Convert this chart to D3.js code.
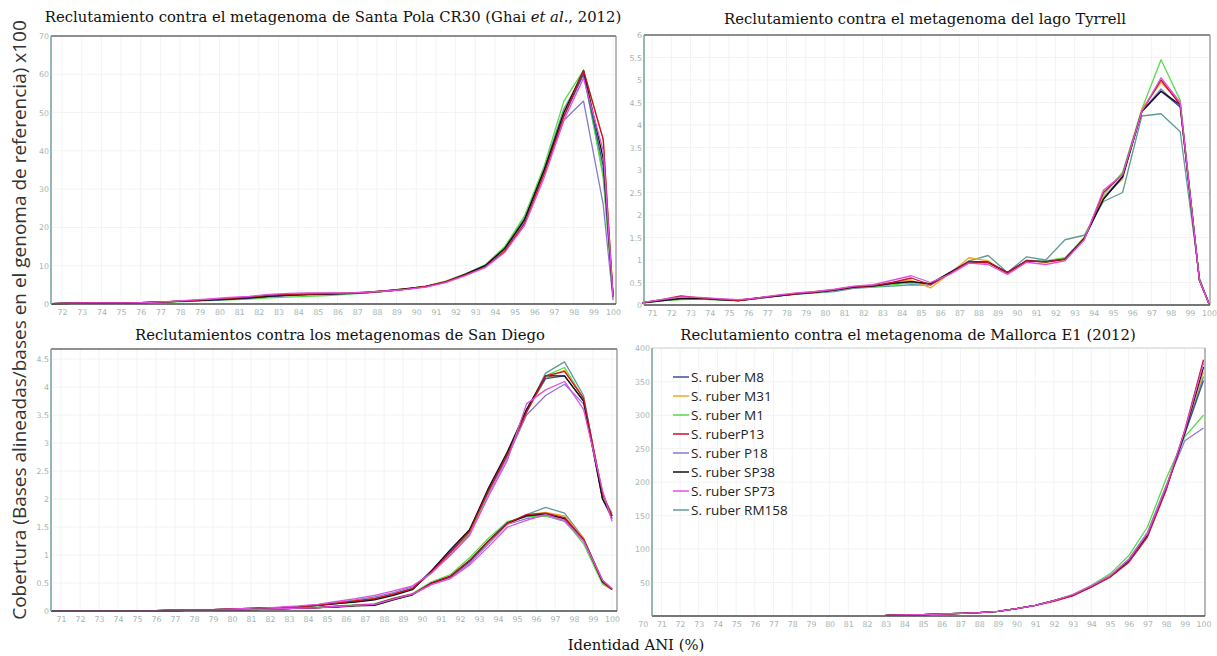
<!DOCTYPE html>
<html><head><meta charset="utf-8">
<script src="https://cdn.jsdelivr.net/npm/d3@7"></script>
<style>body{margin:0;background:#fff} svg{display:block}</style>
</head><body><svg id="c" width="1217" height="656"></svg>
<script>
const strains = ["S. ruber M8","S. ruber M31","S. ruber M1","S. ruberP13","S. ruber P18","S. ruber SP38","S. ruber SP73","S. ruber RM158"];
const strainColors = ["#3b4f9a","#f5a623","#55dd44","#c8102e","#8a78d0","#111111","#e050e0","#5f9a9a"];
const drawOrder = [7,4,2,1,0,5,3,6];

// Santa Pola CR30
const xSantaPola = [71.5,72.5,73.5,74.5,75.5,76.5,77.5,78.5,79.5,80.5,81.5,82.5,83.5,84.5,85.5,86.5,87.5,88.5,89.5,90.5,91.5,92.5,93.5,94.5,95.5,96.5,97.5,98.5,99.5,100];
const santaPola = [
 [0.1,0.2,0.3,0.3,0.3,0.4,0.6,0.8,1.0,1.2,1.5,1.9,2.2,2.4,2.5,2.7,3.0,3.4,3.9,4.6,5.8,7.7,10,14.5,22,35,49,60,36,2],
 [0.1,0.2,0.3,0.3,0.3,0.4,0.6,0.8,1.1,1.4,1.7,2.2,2.6,2.8,2.9,2.9,3.1,3.5,4.0,4.6,5.9,7.6,9.8,14,21,34,50,61,43,2],
 [0.1,0.2,0.3,0.3,0.3,0.4,0.5,0.7,0.9,1.1,1.3,1.6,1.8,2.0,2.2,2.5,2.9,3.3,3.9,4.7,6.0,7.9,10.2,15,23,36,53,61,33,2],
 [0.1,0.2,0.3,0.3,0.3,0.4,0.6,0.9,1.2,1.5,1.8,2.3,2.5,2.6,2.7,2.8,3.0,3.4,3.9,4.6,5.8,7.6,9.6,13.8,21,34,49,61,43,2],
 [0.1,0.2,0.3,0.3,0.3,0.4,0.6,0.8,1.0,1.3,1.6,2.0,2.3,2.5,2.6,2.8,3.0,3.4,3.9,4.5,5.7,7.6,9.8,14.3,21.5,34,48,53,26,1],
 [0.1,0.2,0.3,0.3,0.3,0.4,0.6,0.8,1.0,1.3,1.6,2.0,2.3,2.5,2.6,2.8,3.1,3.5,4.0,4.6,5.8,7.8,10,14.5,22,35,50,61,38,2],
 [0.1,0.2,0.3,0.3,0.3,0.4,0.7,1.0,1.3,1.7,2.0,2.5,2.8,2.9,2.9,2.9,3.1,3.4,3.8,4.4,5.6,7.4,9.5,13.5,20.5,33,48,59,40,2],
 [0.1,0.2,0.3,0.3,0.3,0.4,0.6,0.8,1.0,1.3,1.6,2.0,2.3,2.5,2.6,2.8,3.0,3.4,3.9,4.6,5.9,7.8,10,14.8,22.5,35.5,51,60,34,2]
];
const santaPolaXTicks = [72,73,74,75,76,77,78,79,80,81,82,83,84,85,86,87,88,89,90,91,92,93,94,95,96,97,98,99,100];
const santaPolaYTicks = [0,10,20,30,40,50,60,70];

// Lago Tyrrell
const xTyrrell = [70.5,71.5,72.5,73.5,74.5,75.5,76.5,77.5,78.5,79.5,80.5,81.5,82.5,83.5,84.5,85.5,86.5,87.5,88.5,89.5,90.5,91.5,92.5,93.5,94.5,95.5,96.5,97.5,98.5,99.5,100];
const tyrrell = [
 [0.05,0.1,0.14,0.15,0.12,0.1,0.15,0.2,0.25,0.28,0.33,0.4,0.42,0.48,0.52,0.47,0.72,0.97,0.95,0.72,0.98,0.97,1.02,1.48,2.35,2.85,4.3,4.75,4.4,0.55,0.03],
 [0.05,0.1,0.16,0.14,0.12,0.1,0.16,0.2,0.26,0.3,0.34,0.4,0.42,0.5,0.55,0.38,0.7,1.05,0.98,0.7,1.0,0.95,1.0,1.5,2.4,2.8,4.35,4.95,4.5,0.55,0.03],
 [0.04,0.09,0.12,0.13,0.11,0.1,0.15,0.2,0.24,0.27,0.32,0.4,0.41,0.45,0.5,0.48,0.72,0.95,0.93,0.7,0.97,0.98,1.05,1.5,2.45,2.95,4.35,5.45,4.55,0.55,0.03],
 [0.05,0.12,0.2,0.16,0.13,0.1,0.15,0.21,0.25,0.29,0.34,0.41,0.43,0.5,0.6,0.45,0.7,0.96,0.95,0.72,0.98,0.96,1.02,1.45,2.5,2.9,4.3,5.0,4.45,0.55,0.03],
 [0.05,0.1,0.14,0.16,0.13,0.11,0.15,0.2,0.24,0.28,0.32,0.38,0.42,0.47,0.5,0.46,0.7,0.96,0.96,0.72,0.98,0.96,1.0,1.5,2.4,2.85,4.3,4.8,4.4,0.55,0.03],
 [0.05,0.1,0.14,0.15,0.12,0.1,0.16,0.2,0.25,0.28,0.33,0.4,0.42,0.48,0.52,0.47,0.72,0.96,0.95,0.72,0.98,0.96,1.02,1.48,2.35,2.85,4.3,4.75,4.45,0.55,0.03],
 [0.06,0.12,0.18,0.17,0.14,0.12,0.16,0.22,0.27,0.3,0.35,0.42,0.45,0.55,0.65,0.5,0.68,0.93,0.9,0.68,0.95,0.9,0.98,1.45,2.55,2.9,4.3,5.05,4.5,0.55,0.03],
 [0.05,0.1,0.13,0.14,0.12,0.1,0.14,0.2,0.24,0.27,0.3,0.37,0.4,0.42,0.45,0.44,0.7,0.98,1.1,0.72,1.07,1.0,1.45,1.55,2.3,2.5,4.2,4.25,3.85,0.6,0.03]
];
const tyrrellXTicks = [71,72,73,74,75,76,77,78,79,80,81,82,83,84,85,86,87,88,89,90,91,92,93,94,95,96,97,98,99,100];
const tyrrellYTicks = [0,0.5,1,1.5,2,2.5,3,3.5,4,4.5,5,5.5,6];

// San Diego (two metagenomes)
const xSanDiego = [70.5,71.5,72.5,73.5,74.5,75.5,76.5,77.5,78.5,79.5,80.5,81.5,82.5,83.5,84.5,85.5,86.5,87.5,88.5,89.5,90.5,91.5,92.5,93.5,94.5,95.5,96.5,97.5,98.5,99.5,100];
const sanDiegoA = [
 [0,0,0,0,0,0,0.01,0.02,0.02,0.03,0.04,0.05,0.06,0.07,0.1,0.13,0.17,0.21,0.3,0.4,0.72,1.08,1.45,2.15,2.8,3.6,4.15,4.2,3.75,2.0,1.65],
 [0,0,0,0,0,0,0.01,0.02,0.02,0.03,0.04,0.05,0.06,0.07,0.1,0.14,0.18,0.22,0.3,0.4,0.7,1.05,1.42,2.15,2.8,3.55,4.15,4.3,3.8,2.05,1.7],
 [0,0,0,0,0,0,0.01,0.02,0.02,0.03,0.04,0.05,0.06,0.07,0.1,0.14,0.18,0.22,0.3,0.4,0.68,1.02,1.4,2.12,2.85,3.6,4.2,4.35,3.8,2.05,1.75],
 [0,0,0,0,0,0,0.01,0.02,0.02,0.03,0.04,0.05,0.06,0.07,0.1,0.14,0.18,0.22,0.3,0.4,0.7,1.05,1.42,2.15,2.8,3.55,4.2,4.28,3.8,2.1,1.7],
 [0,0,0,0,0,0,0.01,0.02,0.02,0.03,0.04,0.05,0.06,0.08,0.11,0.15,0.2,0.25,0.33,0.43,0.7,1.0,1.38,2.1,2.75,3.5,3.85,4.05,3.7,2.1,1.65],
 [0,0,0,0,0,0,0.01,0.02,0.02,0.03,0.04,0.05,0.06,0.07,0.1,0.13,0.16,0.2,0.28,0.38,0.72,1.1,1.45,2.2,2.85,3.6,4.2,4.2,3.75,2.0,1.7],
 [0,0,0,0,0,0,0.01,0.02,0.02,0.03,0.04,0.05,0.07,0.09,0.12,0.17,0.22,0.28,0.36,0.45,0.68,1.0,1.35,2.05,2.7,3.7,3.95,4.1,3.6,2.15,1.6],
 [0,0,0,0,0,0,0.01,0.02,0.02,0.03,0.04,0.05,0.06,0.07,0.1,0.14,0.18,0.22,0.3,0.4,0.7,1.05,1.42,2.15,2.8,3.55,4.25,4.45,3.85,2.0,1.7]
];
const sanDiegoB = [
 [0,0,0,0,0,0,0,0.01,0.01,0.02,0.02,0.03,0.04,0.05,0.06,0.08,0.1,0.12,0.22,0.3,0.5,0.62,0.88,1.25,1.58,1.7,1.72,1.65,1.28,0.52,0.39],
 [0,0,0,0,0,0,0,0.01,0.01,0.02,0.02,0.03,0.04,0.05,0.06,0.08,0.1,0.12,0.22,0.3,0.5,0.63,0.9,1.25,1.55,1.72,1.76,1.7,1.3,0.5,0.38],
 [0,0,0,0,0,0,0,0.01,0.01,0.02,0.02,0.03,0.04,0.05,0.07,0.09,0.11,0.13,0.23,0.31,0.52,0.65,0.95,1.3,1.6,1.68,1.7,1.62,1.2,0.48,0.38],
 [0,0,0,0,0,0,0,0.01,0.01,0.02,0.02,0.03,0.04,0.05,0.06,0.08,0.1,0.12,0.22,0.3,0.5,0.62,0.9,1.25,1.57,1.72,1.75,1.67,1.28,0.53,0.39],
 [0,0,0,0,0,0,0,0.01,0.01,0.02,0.02,0.03,0.04,0.05,0.06,0.08,0.1,0.12,0.21,0.29,0.48,0.6,0.85,1.2,1.55,1.65,1.7,1.6,1.25,0.55,0.39],
 [0,0,0,0,0,0,0,0.01,0.01,0.02,0.02,0.03,0.04,0.05,0.06,0.07,0.09,0.1,0.2,0.29,0.5,0.62,0.9,1.25,1.57,1.7,1.74,1.65,1.27,0.52,0.39],
 [0,0,0,0,0,0,0,0.01,0.01,0.02,0.02,0.03,0.04,0.05,0.06,0.08,0.1,0.12,0.21,0.3,0.47,0.58,0.82,1.15,1.5,1.62,1.72,1.62,1.25,0.55,0.4],
 [0,0,0,0,0,0,0,0.01,0.01,0.02,0.02,0.03,0.04,0.05,0.06,0.08,0.1,0.12,0.22,0.3,0.5,0.62,0.9,1.25,1.57,1.72,1.85,1.75,1.3,0.55,0.39]
];
const sanDiegoXTicks = [71,72,73,74,75,76,77,78,79,80,81,82,83,84,85,86,87,88,89,90,91,92,93,94,95,96,97,98,99,100];
const sanDiegoYTicks = [0,0.5,1,1.5,2,2.5,3,3.5,4,4.5];

// Mallorca E1 (2012)
const xMallorca = [83,84,85,86,87,88,89,90,91,92,93,94,95,96,97,98,99,100];
const mallorca = [
 [1,1.5,2,3,4,5,7,11,16,23,31,44,59,82,120,190,272,352],
 [1,1.5,2,3,4,5,7,11,16,23,31,44,58,82,121,192,276,365],
 [1,1.5,2,3,4,5,7,11,16,23,32,46,63,90,133,205,268,300],
 [1,1.5,2,3,4,5,7,11,16,22,30,43,58,80,118,188,278,383],
 [1,1.5,2,3,4,5,7,11,16,23,31,45,60,85,125,195,262,281],
 [1,1.5,2,3,4,5,7,11,16,23,31,44,59,83,121,191,274,372],
 [1,1.5,2,3,4,5,7,11,16,23,32,45,60,84,123,193,277,378],
 [1,1.5,2,3,4,5,7,11,16,23,31,44,59,83,122,192,273,358]
];
const mallorcaXTicks = [70,71,72,73,74,75,76,77,78,79,80,81,82,83,84,85,86,87,88,89,90,91,92,93,94,95,96,97,98,99,100];
const mallorcaYTicks = [50,100,150,200,250,300,350,400];

const svg = d3.select("#c");

function panel(cfg){
  const g = svg.append("g");
  const x = d3.scaleLinear().domain(cfg.xDomain).range([cfg.left, cfg.right]);
  const y = d3.scaleLinear().domain(cfg.yDomain).range([cfg.bottom, cfg.top]);
  g.append("g").selectAll("line").data(cfg.xTicks.filter(d=>x(d)>cfg.left+2 && x(d)<cfg.right-2)).join("line")
    .attr("x1",d=>x(d)).attr("x2",d=>x(d)).attr("y1",cfg.top).attr("y2",cfg.bottom)
    .attr("stroke","#f1f4f3").attr("stroke-width",1);
  g.append("g").selectAll("line").data(cfg.yTicks).join("line")
    .attr("x1",cfg.left).attr("x2",cfg.right).attr("y1",d=>y(d)).attr("y2",d=>y(d))
    .attr("stroke","#f1f4f3").attr("stroke-width",1);
  const line = d3.line().x((d,i)=>x(cfg.xs[i])).y(d=>y(d));
  cfg.groups.forEach(vals => drawOrder.forEach(k=>{
    g.append("path").attr("d",line(vals[k])).attr("fill","none")
      .attr("stroke",strainColors[k]).attr("stroke-width",1.3).attr("stroke-linejoin","round");
  }));
  g.append("line").attr("x1",cfg.left).attr("x2",cfg.right).attr("y1",cfg.top).attr("y2",cfg.top).attr("stroke",cfg.topColor||"#222").attr("stroke-width",1.2);
  g.append("line").attr("x1",cfg.right).attr("x2",cfg.right).attr("y1",cfg.top).attr("y2",cfg.bottom).attr("stroke","#8a8a8a").attr("stroke-width",1.2);
  const xa = d3.axisBottom(x).tickValues(cfg.xTicks).tickSize(0).tickPadding(5).tickFormat(d3.format("d"));
  const xg = g.append("g").attr("transform",`translate(0,${cfg.bottom})`).call(xa);
  xg.select(".domain").attr("stroke","#4a4a4a").attr("stroke-width",1.4).attr("d",`M${cfg.left},0H${cfg.right}`);
  xg.selectAll("text").attr("fill","#a3b6b1").attr("font-size","7.8px").attr("font-family","DejaVu Sans, sans-serif");
  const ya = d3.axisLeft(y).tickValues(cfg.yTicks).tickSize(0).tickPadding(2).tickFormat(d3.format("~g"));
  const yg = g.append("g").attr("transform",`translate(${cfg.left},0)`).call(ya);
  yg.select(".domain").attr("stroke","#7aa89e").attr("stroke-width",1.6).attr("d",`M0,${cfg.bottom}V${cfg.top}`);
  yg.selectAll("text").attr("fill","#a3b6b1").attr("font-size","7.8px").attr("font-family","DejaVu Sans, sans-serif");
  return {g,x,y};
}

panel({left:51,right:616,top:36,bottom:304,xDomain:[71.44,100.15],yDomain:[0,70],xs:xSantaPola,groups:[santaPola],xTicks:santaPolaXTicks,yTicks:santaPolaYTicks});
panel({left:644,right:1210,top:35,bottom:305,xDomain:[70.58,100.05],yDomain:[0,6],xs:xTyrrell,groups:[tyrrell],xTicks:tyrrellXTicks,yTicks:tyrrellYTicks});
panel({left:51,right:617,top:349,bottom:611,xDomain:[70.47,100.26],yDomain:[0,4.68],xs:xSanDiego,groups:[sanDiegoA,sanDiegoB],xTicks:sanDiegoXTicks,yTicks:sanDiegoYTicks});
panel({left:652,right:1205,top:348,bottom:616,xDomain:[70.5,100.08],yDomain:[0,400.5],xs:xMallorca,groups:[mallorca],xTicks:mallorcaXTicks,yTicks:mallorcaYTicks,topColor:"#c9d3d0"});

// legend
const lg = svg.append("g").attr("transform","translate(673,377)");
strains.forEach((s,i)=>{
  const r = lg.append("g").attr("transform",`translate(0,${i*19})`);
  r.append("line").attr("x1",0).attr("x2",16).attr("y1",0).attr("y2",0).attr("stroke",strainColors[i]).attr("stroke-width",1.5);
  r.append("text").attr("x",18).attr("y",4.5).text(s).attr("font-size","13.5px").attr("fill","#222").attr("font-family","Open Sans, sans-serif");
});

// titles
const serif = "DejaVu Serif, serif";
const tSize = "14.8px";
const t1 = svg.append("text").attr("x",333).attr("y",22).attr("text-anchor","middle").attr("font-family",serif).attr("font-size",tSize).attr("fill","#111");
t1.append("tspan").text("Reclutamiento contra el metagenoma de Santa Pola CR30 (Ghai ");
t1.append("tspan").attr("font-style","italic").text("et al.");
t1.append("tspan").text(", 2012)");
svg.append("text").attr("x",925).attr("y",24).attr("text-anchor","middle").attr("font-family",serif).attr("font-size",tSize).attr("fill","#111").text("Reclutamiento contra el metagenoma del lago Tyrrell");
svg.append("text").attr("x",340).attr("y",340).attr("text-anchor","middle").attr("font-family",serif).attr("font-size",tSize).attr("fill","#111").text("Reclutamientos contra los metagenomas de San Diego");
svg.append("text").attr("x",908).attr("y",340).attr("text-anchor","middle").attr("font-family",serif).attr("font-size",tSize).attr("fill","#111").text("Reclutamiento contra el metagenoma de Mallorca E1 (2012)");

svg.append("text").attr("transform","translate(26,320) rotate(-90)").attr("text-anchor","middle")
  .attr("font-family","Open Sans, sans-serif").attr("font-size","19px").attr("fill","#333")
  .text("Cobertura (Bases alineadas/bases en el genoma de referencia) x100");
svg.append("text").attr("x",636).attr("y",650).attr("text-anchor","middle").attr("font-family",serif).attr("font-size","14.8px").attr("fill","#111").text("Identidad ANI (%)");
</script></body></html>
